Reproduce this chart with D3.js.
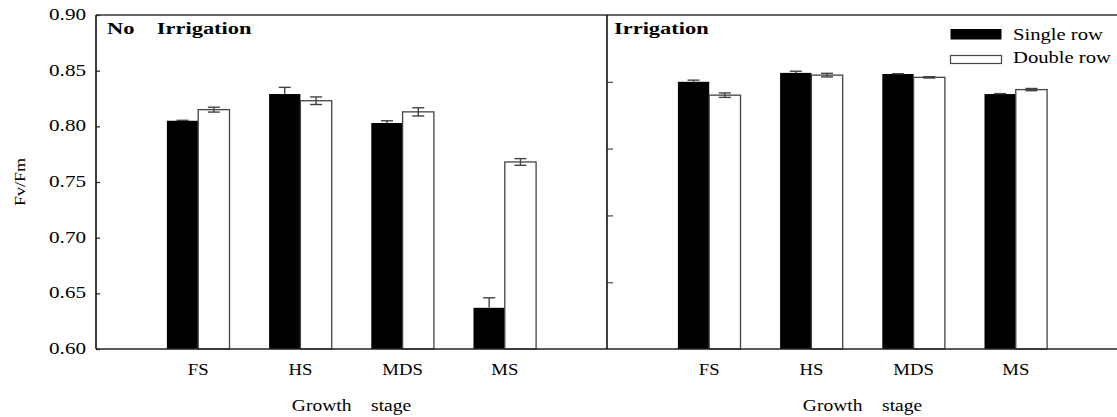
<!DOCTYPE html>
<html>
<head>
<meta charset="utf-8">
<script src="https://cdn.jsdelivr.net/npm/d3@7"></script>
<style>
	body { margin: 0; background: #fff; }
	svg { display: block; font-family: "Liberation Serif", "Times New Roman", serif; }
</style>
</head>
<body>
<div id="svg-container"></div>
<script>
// growth stages and series
var stages = ["FS", "HS", "MDS", "MS"];
var series = ["Single row", "Double row"];
var panels = ["No    Irrigation", "Irrigation"];

// values (Fv/Fm)
var noIrrSingle = [0.805, 0.829, 0.803, 0.637];
var noIrrDouble = [0.815, 0.823, 0.813, 0.768];
var irrSingle = [0.840, 0.848, 0.847, 0.829];
var irrDouble = [0.828, 0.846, 0.844, 0.833];

// error (+/-)
var noIrrSingleErr = [0.0004, 0.006, 0.002, 0.009];
var noIrrDoubleErr = [0.0022, 0.0034, 0.0037, 0.003];
var irrSingleErr = [0.0015, 0.0015, 0.0003, 0.0004];
var irrDoubleErr = [0.002, 0.0016, 0.0006, 0.001];

var yTicks = [0.60, 0.65, 0.70, 0.75, 0.80, 0.85, 0.90];
var yTicksRight = [0.66, 0.72, 0.78, 0.84];

var W = 1117, H = 417;
var plotTop = 15, plotBottom = 349;
var barW = 31.3;
var sx = 1.32; // the source text is stretched sideways

var svg = d3.select('#svg-container').append('svg')
	.attr('width', W).attr('height', H);

var y = d3.scaleLinear().domain([0.60, 0.90]).range([plotBottom, plotTop]);

// one linear x scale per panel (stage k sits at k+1)
var xLeft = d3.scaleLinear().domain([0, 5]).range([96, 607]);
var xRight = d3.scaleLinear().domain([0, 5]).range([607, 1118]);

function drawPanel(x, single, double, sErr, dErr, bw) {
	var g = svg.append('g');
	stages.forEach(function(s, i) {
		var cx = x(i + 1);
		g.append('rect')
			.attr('x', cx - bw).attr('y', y(single[i]))
			.attr('width', bw).attr('height', y(0.60) - y(single[i]))
			.attr('fill', '#000');
		g.append('rect')
			.attr('x', cx).attr('y', y(double[i]))
			.attr('width', bw).attr('height', y(0.60) - y(double[i]))
			.attr('fill', '#fff').attr('stroke', '#444').attr('stroke-width', 1.3);
		drawErr(g, cx - bw / 2, single[i], sErr[i], true);
		drawErr(g, cx + bw / 2, double[i], dErr[i], false);
	});
	return g;
}

function drawErr(g, cx, v, e, topOnly) {
	var c = 6;
	var y1 = y(v + e), y2 = topOnly ? y(v) : y(v - e);
	g.append('line').attr('x1', cx).attr('x2', cx).attr('y1', y1).attr('y2', y2)
		.attr('stroke', '#444').attr('stroke-width', 1.4);
	g.append('line').attr('x1', cx - c).attr('x2', cx + c).attr('y1', y1).attr('y2', y1)
		.attr('stroke', '#444').attr('stroke-width', 1.4);
	if (!topOnly) {
		g.append('line').attr('x1', cx - c).attr('x2', cx + c).attr('y1', y2).attr('y2', y2)
			.attr('stroke', '#444').attr('stroke-width', 1.4);
	}
}

// stretched text helper
function stretchText(parent, x, yy, str, size, anchor, bold, k) {
	return parent.append('text')
		.attr('transform', 'translate(' + x + ',' + yy + ') scale(' + (k || sx) + ',1)')
		.attr('text-anchor', anchor || 'start')
		.style('font-size', size + 'px')
		.style('font-weight', bold ? 'bold' : 'normal')
		.style('white-space', 'pre')
		.text(str);
}

drawPanel(xLeft, noIrrSingle, noIrrDouble, noIrrSingleErr, noIrrDoubleErr, barW);
drawPanel(xRight, irrSingle, irrDouble, irrSingleErr, irrDoubleErr, barW);

// left axis with inward ticks
var yAxis = svg.append('g')
	.attr('transform', 'translate(96,0)')
	.call(d3.axisRight(y).tickValues(yTicks).tickSize(4).tickFormat(''));
yAxis.select('.domain').remove();
yAxis.selectAll('line').attr('stroke', '#333').attr('stroke-width', 1.3);

var tickLabels = svg.append('g');
yTicks.forEach(function(d) {
	stretchText(tickLabels, 86, y(d) + 5, d.toFixed(2), 16, 'end');
});

// right panel inner ticks (no labels)
var yAxis2 = svg.append('g')
	.attr('transform', 'translate(607,0)')
	.call(d3.axisRight(y).tickValues(yTicksRight).tickSize(6).tickFormat(''));
yAxis2.select('.domain').remove();
yAxis2.selectAll('line').attr('stroke', '#555').attr('stroke-width', 1.3);

// frame lines
function line(x1, y1, x2, y2, color, width) {
	return svg.append('line')
		.attr('x1', x1).attr('y1', y1).attr('x2', x2).attr('y2', y2)
		.attr('stroke', color).attr('stroke-width', width);
}
line(96, plotTop, W, plotTop, '#333', 1.3);
line(96, plotBottom, W, plotBottom, '#222', 1.6);
line(96, plotTop, 96, plotBottom, '#111', 1.6);
line(607, plotTop, 607, plotBottom, '#111', 1.6);

// panel titles
stretchText(svg, 107, 34, panels[0], 17, 'start', true);
stretchText(svg, 614, 34, panels[1], 17, 'start', true);

// category labels
[xLeft, xRight].forEach(function(x) {
	stages.forEach(function(d, i) {
		stretchText(svg, x(i + 1), 375, d, 17, 'middle', false, 1.1);
	});
	stretchText(svg, x(2.5), 411, 'Growth    stage', 17, 'middle', false, 1.15);
});

// y label
svg.append('text')
	.attr('transform', 'translate(25,' + y(0.75) + ') rotate(-90) scale(1.2,1)')
	.attr('text-anchor', 'middle')
	.style('font-size', '15px')
	.text('Fv/Fm');

// legend
var legend = svg.append('g');
series.forEach(function(s, i) {
	legend.append('rect')
		.attr('x', 950.5).attr('y', 29 + i * 26.5)
		.attr('width', 51).attr('height', i ? 8 : 10.5)
		.attr('fill', i ? '#fff' : '#000')
		.attr('stroke', i ? '#444' : 'none').attr('stroke-width', 1.2);
	stretchText(legend, 1013, 40 + i * 23, s, 16, 'start', false, 1.29);
});
</script>
</body>
</html>
